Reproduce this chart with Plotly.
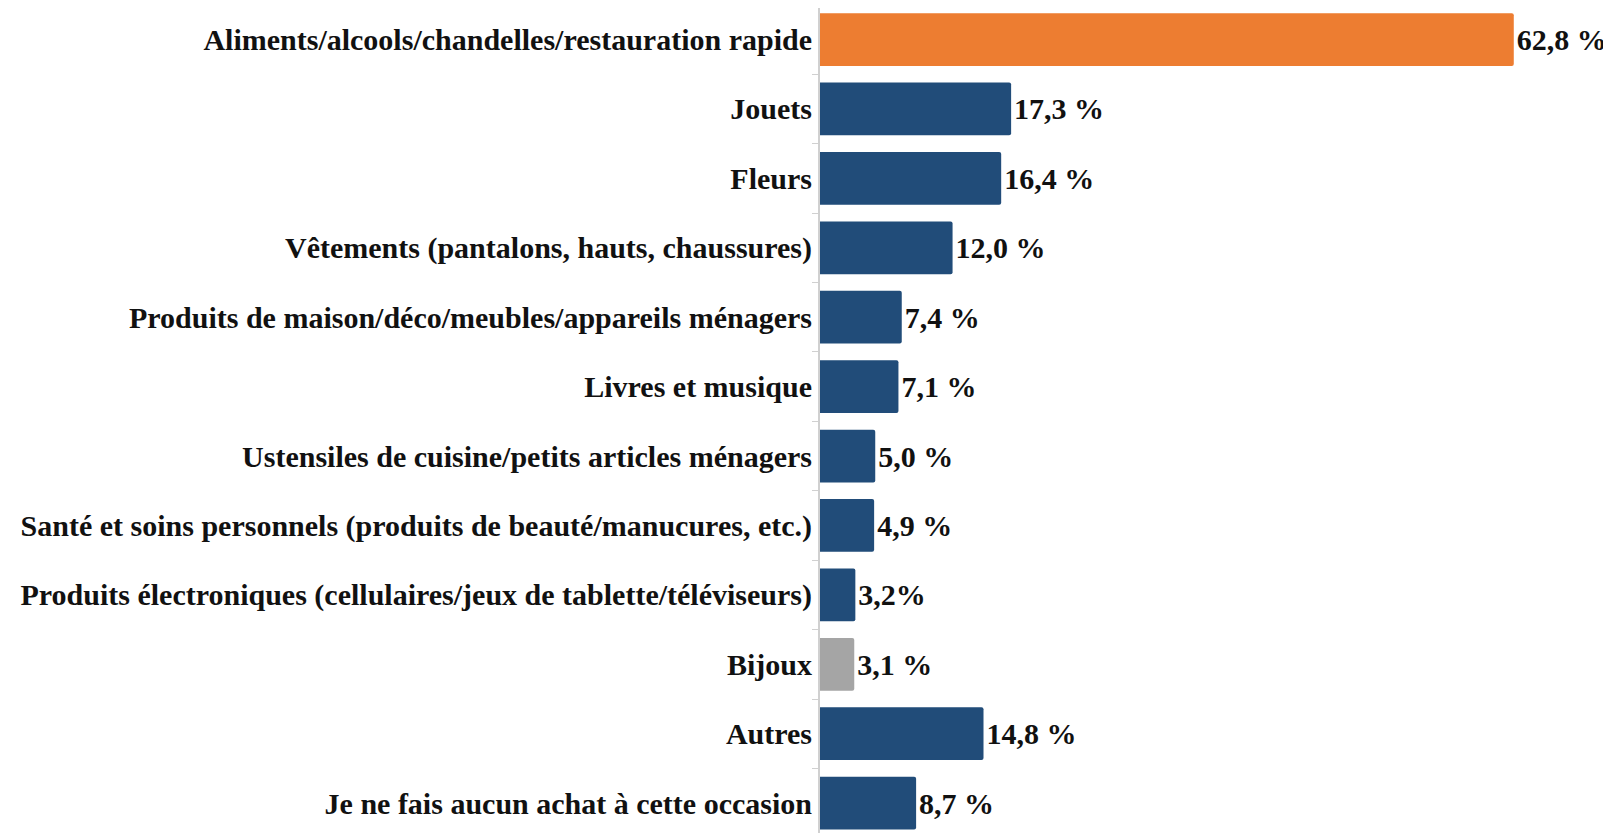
import plotly.graph_objects as go

categories = [
    "Aliments/alcools/chandelles/restauration rapide",
    "Jouets",
    "Fleurs",
    "Vêtements (pantalons, hauts, chaussures)",
    "Produits de maison/déco/meubles/appareils ménagers",
    "Livres et musique",
    "Ustensiles de cuisine/petits articles ménagers",
    "Santé et soins personnels (produits de beauté/manucures, etc.)",
    "Produits électroniques (cellulaires/jeux de tablette/téléviseurs)",
    "Bijoux",
    "Autres",
    "Je ne fais aucun achat à cette occasion",
]
values = [62.8, 17.3, 16.4, 12.0, 7.4, 7.1, 5.0, 4.9, 3.2, 3.1, 14.8, 8.7]
value_labels = ["62,8 %", "17,3 %", "16,4 %", "12,0 %", "7,4 %", "7,1 %",
                "5,0 %", "4,9 %", "3,2%", "3,1 %", "14,8 %", "8,7 %"]

ORANGE, BLUE, GREY = "#ED7D31", "#214C79", "#A5A5A5"
colors = [BLUE] * len(categories)
colors[0] = ORANGE
colors[categories.index("Bijoux")] = GREY

font = dict(family="Liberation Serif", size=30, color="#111111")

fig = go.Figure(go.Bar(
    x=values, y=categories, orientation="h",
    marker=dict(color=colors, cornerradius=2, line=dict(width=0)),
    text=value_labels, textposition="outside", cliponaxis=False,
    textfont=font,
    width=0.76,
))

# page body has an 8px margin, so the figure is 8px smaller than the window
fig.update_layout(
    width=1603, height=825,
    margin=dict(l=812, r=0, t=0, b=0, autoexpand=False),
    plot_bgcolor="white", paper_bgcolor="white",
    font=font, showlegend=False,
    xaxis=dict(range=[0, 71.6], visible=False, automargin=False),
    yaxis=dict(
        autorange=False, range=[11.43, -0.454], automargin=False,
        showline=True, linecolor="#D0D0D0", linewidth=2,
        ticks="outside", tickson="boundaries", ticklen=6, tickcolor="#D0D0D0",
        tickfont=font,
        ticklabelstandoff=0,
    ),
)
fig.update_yaxes(tickprefix="<b>", ticksuffix="</b>")
fig.update_traces(texttemplate="<b>%{text}</b>")

fig.write_html("out.html")
